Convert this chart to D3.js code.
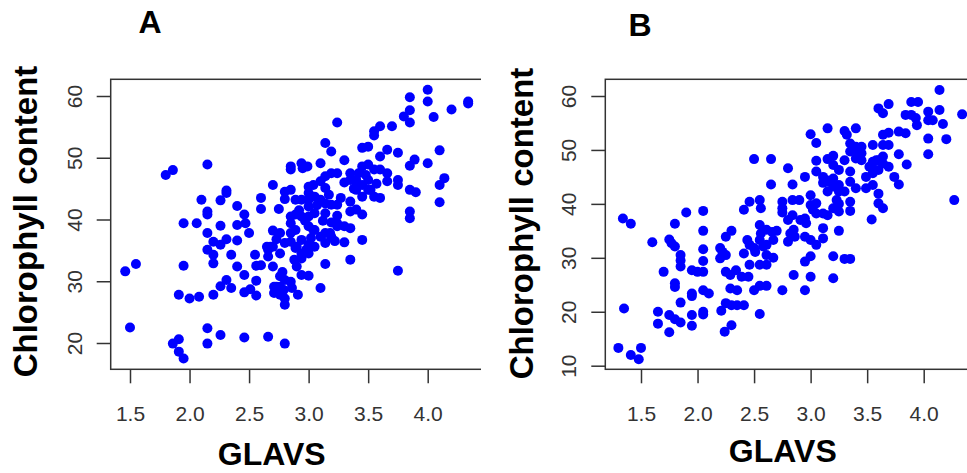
<!DOCTYPE html>
<html><head><meta charset="utf-8">
<script src="https://cdn.jsdelivr.net/npm/d3@7"></script>
<style>body{margin:0;background:#fff}svg{display:block}</style>
</head><body>
<svg width="967" height="473"></svg>
<script>
const panelTitles = ["A", "B"];
const xLabel = "GLAVS";
const yLabel = "Chlorophyll content";
const xTicks = [1.5, 2.0, 2.5, 3.0, 3.5, 4.0];
const yTicksA = [20, 30, 40, 50, 60];
const yTicksB = [10, 20, 30, 40, 50, 60];

// Panel A: [GLAVS, chlorophyll content]
const panelA = [
[1.46,31.6],[1.55,32.8],[1.50,22.5],[1.80,47.2],[1.86,48.0],[1.86,19.9],[1.91,20.6],[1.91,18.6],[1.95,17.5],[1.91,27.8],
[1.95,32.5],[1.95,39.4],[2.00,27.2],[2.08,27.5],[2.06,39.4],[2.15,48.9],[2.10,43.2],[2.15,41.3],[2.15,40.8],[2.15,37.8],
[2.15,35.1],[2.20,34.3],[2.20,32.9],[2.20,27.8],[2.15,22.4],[2.15,19.9],[2.26,21.3],[2.20,36.4],[2.26,35.9],[2.26,39.0],
[2.26,43.1],[2.31,44.7],[2.31,44.3],[2.31,36.8],[2.35,34.3],[2.26,29.2],[2.31,30.2],[2.35,28.9],[2.40,42.2],[2.40,39.1],
[2.40,36.6],[2.40,32.4],[2.46,40.8],[2.47,39.4],[2.46,31.0],[2.46,28.2],[2.46,20.9],[2.50,37.8],[2.51,28.7],[2.55,34.3],
[2.56,32.5],[2.56,30.1],[2.56,27.7],[2.60,43.5],[2.60,41.7],[2.60,32.6],[2.66,35.1],[2.66,34.0],[2.68,35.6],[2.66,21.0],
[2.70,45.6],[2.70,38.2],[2.70,35.6],[2.70,32.4],[2.71,29.1],[2.71,28.1],[2.75,41.7],[2.76,37.8],[2.76,34.5],[2.76,30.8],
[2.76,29.1],[2.76,27.8],[2.80,44.5],[2.80,43.3],[2.80,19.9],[2.80,26.2],[2.80,27.2],[2.80,30.2],[2.80,36.2],[2.85,48.6],
[2.85,48.1],[2.85,44.8],[2.85,40.5],[2.85,39.4],[2.85,37.8],[2.85,36.4],[2.85,29.9],[2.86,28.9],[2.89,43.2],[2.89,40.8],
[2.89,38.3],[2.89,35.4],[2.91,27.8],[2.90,32.4],[2.94,49.1],[2.95,48.3],[2.94,43.2],[2.94,40.5],[2.94,36.7],[2.94,34.5],
[2.94,31.0],[2.94,33.7],[2.99,48.6],[3.00,45.3],[3.00,44.3],[3.00,43.2],[3.00,42.1],[3.00,40.5],[3.00,38.9],[3.00,35.9],
[3.00,34.5],[3.00,30.9],[3.04,45.6],[3.05,43.7],[3.05,41.0],[3.05,38.3],[3.05,35.6],[3.10,49.1],[3.10,46.2],[3.10,43.2],
[3.10,37.2],[3.10,28.9],[3.14,52.4],[3.14,47.0],[3.14,45.1],[3.14,42.6],[3.14,41.0],[3.14,37.8],[3.14,36.2],[3.14,32.8],
[3.19,51.0],[3.19,47.5],[3.19,42.4],[3.19,39.5],[3.19,37.2],[3.24,55.7],[3.24,47.5],[3.24,42.4],[3.24,40.6],[3.24,38.9],
[3.30,49.6],[3.30,46.0],[3.30,38.9],[3.30,36.3],[3.35,47.5],[3.35,46.4],[3.35,42.9],[3.35,41.3],[3.35,38.6],[3.35,33.5],
[3.40,46.2],[3.40,44.8],[3.40,41.6],[3.45,51.6],[3.45,48.6],[3.45,45.6],[3.45,43.7],[3.45,40.8],[3.45,36.7],[3.50,51.8],
[3.50,48.9],[3.50,46.4],[3.50,44.8],[3.55,54.3],[3.55,53.6],[3.55,48.1],[3.55,43.7],[3.60,55.1],[3.60,50.2],[3.60,48.1],
[3.60,43.5],[3.66,51.3],[3.66,47.5],[3.66,46.2],[3.70,55.1],[3.75,50.8],[3.75,46.4],[3.75,45.6],[3.75,31.7],[3.80,56.7],
[3.85,59.8],[3.85,57.7],[3.85,55.7],[3.85,48.7],[3.85,44.8],[3.85,41.3],[3.85,40.2],[3.89,49.7],[3.90,44.4],[4.00,61.0],
[4.00,59.1],[4.00,49.1],[4.05,56.6],[4.10,51.2],[4.10,45.6],[4.14,46.7],[4.10,42.8],[4.20,57.8],[4.34,59.1],[4.34,58.8],
[2.92,41.5],[2.97,39.8],[3.07,42.3],[3.02,37.0],[2.88,33.5],[3.17,44.0],[3.27,43.5],[3.38,45.0],[3.42,47.5],[3.22,36.5],
[2.78,31.5],[2.73,36.8],[3.12,39.8],[3.48,47.2],[3.57,45.8],[2.90,35.6],[2.79,28.6],[2.73,29.1],[3.18,37.8],[3.24,39.4],
[3.40,46.4],[3.52,44.8],[3.04,38.3],[2.98,35.1],[2.65,35.6]
];

// Panel B: [GLAVS, chlorophyll content]
const panelB = [
[1.30,13.3],[1.41,12.0],[1.48,11.2],[1.50,13.3],[1.35,20.6],[1.34,37.3],[1.41,36.3],[1.60,32.9],[1.65,20.0],[1.65,17.8],
[1.70,27.4],[1.75,33.4],[1.77,32.7],[1.80,36.3],[1.80,32.1],[1.75,19.4],[1.80,18.6],[1.85,18.0],[1.75,16.2],[1.80,25.3],
[1.80,24.6],[1.85,30.5],[1.85,29.5],[1.85,28.4],[1.85,21.7],[1.90,38.4],[1.95,27.7],[2.00,27.4],[2.05,27.4],[1.95,23.4],
[1.95,22.9],[1.95,19.4],[1.95,17.4],[2.05,38.7],[2.05,35.0],[2.05,31.6],[2.05,29.4],[2.05,24.0],[2.10,23.4],[2.05,20.0],
[2.05,19.5],[2.20,31.8],[2.22,31.1],[2.25,30.5],[2.20,29.9],[2.21,20.2],[2.24,16.3],[2.30,17.5],[2.25,33.9],[2.30,35.0],
[2.25,21.6],[2.30,21.2],[2.35,21.2],[2.41,21.2],[2.25,27.4],[2.29,26.8],[2.34,27.7],[2.29,24.3],[2.35,24.0],[2.41,38.9],
[2.41,30.8],[2.39,26.5],[2.45,26.5],[2.46,40.4],[2.44,33.3],[2.46,32.4],[2.46,28.7],[2.50,31.8],[2.51,31.1],[2.50,48.3],
[2.50,24.0],[2.55,40.7],[2.56,39.2],[2.55,36.1],[2.56,34.5],[2.55,33.3],[2.58,32.1],[2.55,28.7],[2.55,24.8],[2.61,24.8],
[2.55,19.6],[2.61,35.2],[2.61,32.4],[2.61,30.5],[2.61,28.7],[2.65,48.3],[2.65,43.6],[2.66,34.8],[2.67,33.3],[2.67,30.0],
[2.70,35.0],[2.75,40.4],[2.75,39.2],[2.75,38.4],[2.75,24.0],[2.80,46.6],[2.80,37.0],[2.80,33.0],[2.84,43.6],[2.84,40.7],
[2.84,37.9],[2.85,35.2],[2.86,33.9],[2.85,26.8],[2.90,40.7],[2.95,45.0],[2.95,37.3],[2.96,36.4],[2.95,33.9],[2.95,29.3],
[2.95,24.0],[3.00,52.9],[3.00,41.6],[3.00,39.8],[3.00,33.3],[3.00,30.3],[3.00,26.5],[3.05,51.3],[3.05,48.0],[3.05,46.0],
[3.05,40.1],[3.05,38.2],[3.05,32.4],[3.11,45.0],[3.11,43.9],[3.11,38.2],[3.11,35.5],[3.11,33.6],[3.15,54.0],[3.15,48.3],
[3.15,44.1],[3.15,42.3],[3.15,37.9],[3.20,48.9],[3.20,47.2],[3.20,44.7],[3.20,43.2],[3.20,39.2],[3.20,30.3],[3.20,26.2],
[3.25,46.3],[3.25,43.5],[3.25,42.3],[3.25,40.0],[3.25,38.6],[3.25,35.0],[3.30,53.5],[3.32,52.8],[3.30,48.1],[3.30,42.3],
[3.30,29.8],[3.35,29.8],[3.35,51.2],[3.35,49.7],[3.35,46.0],[3.35,44.1],[3.35,40.4],[3.35,38.7],[3.40,54.0],[3.40,50.6],
[3.40,48.4],[3.40,42.9],[3.45,50.6],[3.45,49.4],[3.45,48.1],[3.49,45.0],[3.49,42.9],[3.55,50.9],[3.55,47.8],[3.55,46.6],
[3.55,45.7],[3.55,43.5],[3.54,37.1],[3.60,57.7],[3.60,48.1],[3.60,46.3],[3.60,41.9],[3.60,40.1],[3.64,56.8],[3.64,52.8],
[3.64,50.9],[3.64,48.8],[3.64,47.5],[3.64,39.2],[3.69,58.5],[3.69,53.2],[3.69,50.9],[3.69,46.9],[3.74,45.0],[3.78,53.4],
[3.84,53.1],[3.78,49.2],[3.78,43.6],[3.84,56.5],[3.85,47.3],[3.89,58.9],[3.95,58.9],[3.89,56.5],[3.93,55.9],[3.94,54.6],
[4.04,57.1],[4.04,55.5],[4.08,55.5],[4.04,52.1],[4.04,49.2],[4.14,61.1],[4.14,57.4],[4.17,54.8],[4.20,52.0],[4.27,40.7],
[4.34,56.6],[3.14,44.4],[3.23,40.7],[3.52,46.9],[3.02,38.9],[2.91,37.0],[2.82,34.5],[3.41,50.0],[3.58,48.1]
];

const svg = d3.select("svg");
const FONT = "'Liberation Sans', Arial, Helvetica, sans-serif";
const INK = "#333";

const panels = [
  { title: panelTitles[0], data: panelA, yTicks: yTicksA,
    xDom: [1.5, 4.0], xRng: [130, 427.7], yDom: [20, 60], yRng: [343, 96],
    boxL: 110.7, boxT: 79.3, boxB: 369.3, clipL: 0, clipR: 481,
    titleX: 150, titleY: 33.3, yLabX: 37, yLabY: 221.5, yTickLabX: 81.5,
    xLabX: 271.7, xLabY: 465 },
  { title: panelTitles[1], data: panelB, yTicks: yTicksB,
    xDom: [1.5, 4.0], xRng: [641, 923.7], yDom: [10, 60], yRng: [365.7, 96],
    boxL: 605.3, boxT: 79.3, boxB: 369.3, clipL: 487, clipR: 967,
    titleX: 640, titleY: 35.7, yLabX: 533, yLabY: 223.5, yTickLabX: 576,
    xLabX: 782.8, xLabY: 462 }
];

panels.forEach((p, i) => {
  const x = d3.scaleLinear().domain(p.xDom).range(p.xRng);
  const y = d3.scaleLinear().domain(p.yDom).range(p.yRng);

  svg.append("clipPath").attr("id", "clip" + i)
    .append("rect").attr("x", p.clipL).attr("y", 0)
    .attr("width", p.clipR - p.clipL).attr("height", 473);

  const g = svg.append("g").attr("clip-path", `url(#clip${i})`);

  // points
  g.append("g").selectAll("circle").data(p.data).join("circle")
    .attr("cx", d => x(d[0])).attr("cy", d => y(d[1]))
    .attr("r", 5).attr("fill", "#0000ff");

  // box (extends beyond the crop on the right)
  g.append("rect")
    .attr("x", p.boxL).attr("y", p.boxT)
    .attr("width", 1000).attr("height", p.boxB - p.boxT)
    .attr("fill", "none").attr("stroke", INK).attr("stroke-width", 1.5);

  // x axis
  const xa = g.append("g").attr("transform", `translate(0,${p.boxB})`)
    .call(d3.axisBottom(x).tickValues(xTicks).tickFormat(d3.format(".1f")).tickSize(14).tickPadding(23));
  xa.select(".domain").remove();
  xa.selectAll("line").attr("stroke", INK).attr("stroke-width", 1.5);
  xa.selectAll("text").attr("font-family", FONT).attr("font-size", 21).attr("fill", INK);

  // y axis
  const ya = g.append("g").attr("transform", `translate(${p.boxL},0)`)
    .call(d3.axisLeft(y).tickValues(p.yTicks).tickFormat(d3.format("d")).tickSize(14));
  ya.select(".domain").remove();
  ya.selectAll("line").attr("stroke", INK).attr("stroke-width", 1.5);
  ya.selectAll("text")
    .attr("x", null).attr("dy", null)
    .attr("transform", `translate(${p.yTickLabX - p.boxL},0) rotate(-90)`)
    .attr("text-anchor", "middle")
    .attr("font-family", FONT).attr("font-size", 21).attr("fill", INK);

  // panel title
  g.append("text").attr("x", p.titleX).attr("y", p.titleY)
    .attr("text-anchor", "middle").attr("font-family", FONT)
    .attr("font-weight", "bold").attr("font-size", 32).attr("fill", "#000")
    .text(p.title);

  // x label
  g.append("text").attr("x", p.xLabX).attr("y", p.xLabY)
    .attr("text-anchor", "middle").attr("font-family", FONT)
    .attr("font-weight", "bold").attr("font-size", 32).attr("fill", "#000")
    .text(xLabel);

  // y label
  g.append("text")
    .attr("transform", `translate(${p.yLabX},${p.yLabY}) rotate(-90)`)
    .attr("text-anchor", "middle").attr("font-family", FONT)
    .attr("font-weight", "bold").attr("font-size", 33).attr("fill", "#000")
    .text(yLabel);
});
</script>
</body></html>
